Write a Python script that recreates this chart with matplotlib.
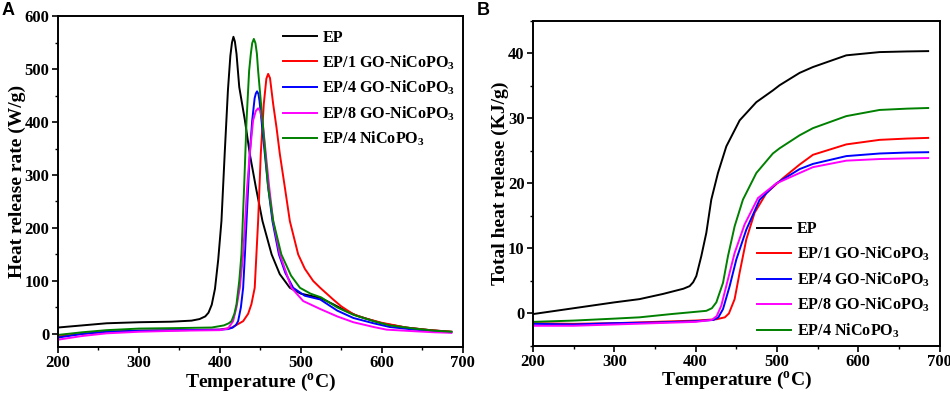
import matplotlib
matplotlib.use("Agg")
from matplotlib import pyplot as plt
from matplotlib.ticker import MultipleLocator

# ---- data ----
labels = ["EP", r"EP/1 GO-NiCoPO$\mathregular{_3}$", r"EP/4 GO-NiCoPO$\mathregular{_3}$",
          r"EP/8 GO-NiCoPO$\mathregular{_3}$", r"EP/4 NiCoPO$\mathregular{_3}$"]
colors = ["black", "#ff0000", "#0000ff", "#ff00ff", "#008000"]

# panel A: heat release rate (W/g)
hrr_ep_T = [200, 230, 260, 300, 340, 365, 375, 382, 386, 390, 394, 398, 402, 406, 410, 413, 415,
            416.8, 418.6, 420.6, 424, 431, 437, 444.5, 452.7, 464, 474, 486.5, 500, 512, 524,
            540, 555, 570, 600, 630, 660, 686]
hrr_ep = [12, 16, 20, 22, 23, 25, 28, 33, 40, 55, 85, 140, 213, 340, 460, 525, 550,
          561, 552, 529, 466, 403, 340, 277, 213, 150, 113, 87, 76, 72, 68,
          56, 44, 34, 20, 12, 7, 4]

hrr_1go_T = [200, 230, 260, 300, 350, 400, 415, 428.8, 435, 439, 443.1, 447.3, 450.6, 454.3,
             457.5, 459.7, 462, 465.9, 470, 474.1, 480.3, 486.5, 496.8, 505, 515.3, 524, 540,
             550, 565, 580, 600, 630, 660, 686]
hrr_1go = [-5, 0, 4, 6, 7, 8, 12, 24, 38, 56, 87, 213, 340, 434,
           482, 491, 483, 434, 390, 340, 277, 213, 150, 123, 100, 87, 65,
           52, 37, 29, 21, 12, 7, 4]

hrr_4go_T = [200, 230, 260, 300, 350, 400, 410, 416, 420, 422.6, 426, 428.8, 431, 433, 437, 440,
             443, 444.5, 446, 447.7, 449, 451.5, 455.6, 459.7, 465, 473, 481, 490.6, 505, 524,
             545, 565, 590, 610, 640, 665, 686]
hrr_4go = [-7, 0, 4, 6, 7, 8, 9, 12, 17, 24, 50, 87, 150, 213, 340, 403,
           445, 454, 458, 453, 440, 403, 340, 277, 213, 150, 115, 87, 72, 65,
           44, 30, 20, 13, 8, 5, 3]

hrr_8go_T = [200, 230, 260, 300, 350, 400, 410, 416.4, 420.5, 424.7, 428.8, 433.7, 437, 441.1,
             444.5, 447.3, 450, 452.7, 456.8, 461, 465.9, 474.1, 488.5, 503, 524, 545, 565, 590,
             606, 640, 665, 686]
hrr_8go = [-11, -4, 1, 4, 6, 7, 10, 24, 50, 87, 150, 277, 340, 403,
           421, 426, 421, 403, 340, 277, 213, 150, 87, 62, 47, 33, 22, 13,
           8, 5, 3, 2]

hrr_4ni_T = [200, 230, 260, 300, 350, 390, 405, 411, 414.4, 418, 420.6, 424, 426.7, 430, 433,
             436.2, 438.3, 440, 442, 444, 445.8, 447.3, 452.7, 459.7, 466, 476, 488, 499, 512,
             525, 545, 565, 590, 610, 640, 665, 686]
hrr_4ni = [-2, 3, 7, 10, 11, 12, 16, 20, 24, 38, 56, 100, 150, 277, 403,
           497, 529, 549, 557, 549, 529, 497, 403, 277, 213, 150, 110, 87, 76,
           69, 50, 36, 24, 16, 10, 6, 4]

# panel B: total heat release (KJ/g)
thr_ep_T = [200, 250, 300, 331, 360, 385, 392.7, 397, 400.9, 407, 413.2, 419.3, 427.5, 437.8,
            454.2, 474.7, 495, 503.3, 527.9, 544.3, 585.3, 626.3, 660, 686]
thr_ep = [-0.1, 0.8, 1.7, 2.2, 3.0, 3.8, 4.2, 4.8, 5.75, 8.8, 12.4, 17.5, 21.6, 25.7,
          29.7, 32.5, 34.3, 35.1, 37.0, 37.9, 39.7, 40.2, 40.3, 40.35]

thr_1go_T = [200, 250, 300, 350, 400, 425.5, 436, 441, 448, 454.2, 462.4, 472.6, 487, 507.4,
             527.9, 544.3, 585.3, 626.3, 660, 686]
thr_1go = [-1.5, -1.6, -1.5, -1.3, -1.1, -0.9, -0.6, 0.0, 2.2, 6.3, 11.4, 15.5, 18.5, 20.8,
           22.9, 24.4, 26.0, 26.7, 26.9, 27.0]

thr_4go_T = [200, 250, 300, 350, 400, 422, 428, 433.7, 441.9, 450.1, 462.4, 478.8, 499.3, 527.9,
             544.3, 585.3, 626.3, 660, 686]
thr_4go = [-1.6, -1.7, -1.5, -1.4, -1.2, -1.0, -0.6, 0.66, 4.2, 8.3, 12.9, 17.5, 20.0, 22.2,
           23.0, 24.2, 24.6, 24.75, 24.8]

thr_8go_T = [200, 250, 300, 350, 400, 420, 426, 431.6, 439.8, 448, 460.3, 476.7, 499.3, 527.9,
             544.3, 585.3, 626.3, 660, 686]
thr_8go = [-1.9, -1.9, -1.7, -1.5, -1.3, -1.0, -0.4, 1.2, 5.25, 9.3, 13.7, 17.75, 20.0, 21.6,
           22.5, 23.5, 23.75, 23.85, 23.9]

thr_4ni_T = [200, 250, 300, 331, 370, 413.2, 420, 425.5, 433.7, 439.8, 448, 458.2, 474.7, 495,
             503.3, 527.9, 544.3, 585.3, 626.3, 660, 686]
thr_4ni = [-1.3, -1.1, -0.8, -0.6, -0.1, 0.4, 0.8, 1.7, 4.7, 8.8, 13.4, 17.5, 21.6, 24.6,
           25.4, 27.4, 28.5, 30.35, 31.3, 31.5, 31.6]

# ---- style ----
plt.rcParams['font.family'] = ['Liberation Serif', 'DejaVu Serif']
plt.rcParams['font.weight'] = 'bold'
plt.rcParams['mathtext.fontset'] = 'custom'
plt.rcParams['mathtext.rm'] = 'Liberation Serif:bold'
plt.rcParams['mathtext.bf'] = 'Liberation Serif:bold'

fig = plt.figure(figsize=(9.5, 3.94), dpi=100)
axA = fig.add_axes([0.061, 0.119, 0.426, 0.840])
axB = fig.add_axes([0.561, 0.122, 0.428, 0.825])


def style_axes(ax, ylab, ymajor, yminor):
    for s in ax.spines.values():
        s.set_linewidth(1.4)
    ax.set_xlim(200, 700)
    ax.xaxis.set_major_locator(MultipleLocator(100))
    ax.xaxis.set_minor_locator(MultipleLocator(50))
    ax.yaxis.set_major_locator(MultipleLocator(ymajor))
    ax.yaxis.set_minor_locator(MultipleLocator(yminor))
    ax.tick_params(which='major', direction='out', length=4, width=1.2, labelsize=12,
                   top=False, right=False, pad=2)
    ax.tick_params(which='minor', direction='out', length=2.5, width=1.0, top=False, right=False)
    for t in ax.get_xticklabels() + ax.get_yticklabels():
        t.set_fontweight('bold')
    ax.set_xlabel(r'Temperature ($\mathregular{^{o}}$C)', fontsize=14, fontweight='bold', labelpad=0)
    ax.set_ylabel(ylab, fontsize=14, fontweight='bold', labelpad=-1)


# panel A
for T, v, c, lab in zip([hrr_ep_T, hrr_1go_T, hrr_4go_T, hrr_8go_T, hrr_4ni_T],
                        [hrr_ep, hrr_1go, hrr_4go, hrr_8go, hrr_4ni], colors, labels):
    axA.plot(T, v, color=c, lw=1.4, label=lab)
axA.set_ylim(-25, 600)
style_axes(axA, 'Heat release rate (W/g)', 100, 50)
axA.legend(loc='upper left', bbox_to_anchor=(0.54, 0.978), frameon=False, fontsize=11.6,
           handlelength=2.1, handletextpad=0.35, labelspacing=0.45, borderaxespad=0)

# panel B
for T, v, c, lab in zip([thr_ep_T, thr_1go_T, thr_4go_T, thr_8go_T, thr_4ni_T],
                        [thr_ep, thr_1go, thr_4go, thr_8go, thr_4ni], colors, labels):
    axB.plot(T, v, color=c, lw=1.4, label=lab)
axB.set_ylim(-5, 45)
style_axes(axB, 'Total heat release (KJ/g)', 10, 5)
axB.set_yticks([0, 10, 20, 30, 40])
axB.legend(loc='upper left', bbox_to_anchor=(0.536, 0.403), frameon=False, fontsize=11.6,
           handlelength=2.1, handletextpad=0.35, labelspacing=0.45, borderaxespad=0)

fig.text(0.002, 0.995, 'A', fontsize=13, fontweight='bold', family='Liberation Sans', va='top')
fig.text(0.502, 0.995, 'B', fontsize=13, fontweight='bold', family='Liberation Sans', va='top')

fig.savefig('out.png', dpi=100)
